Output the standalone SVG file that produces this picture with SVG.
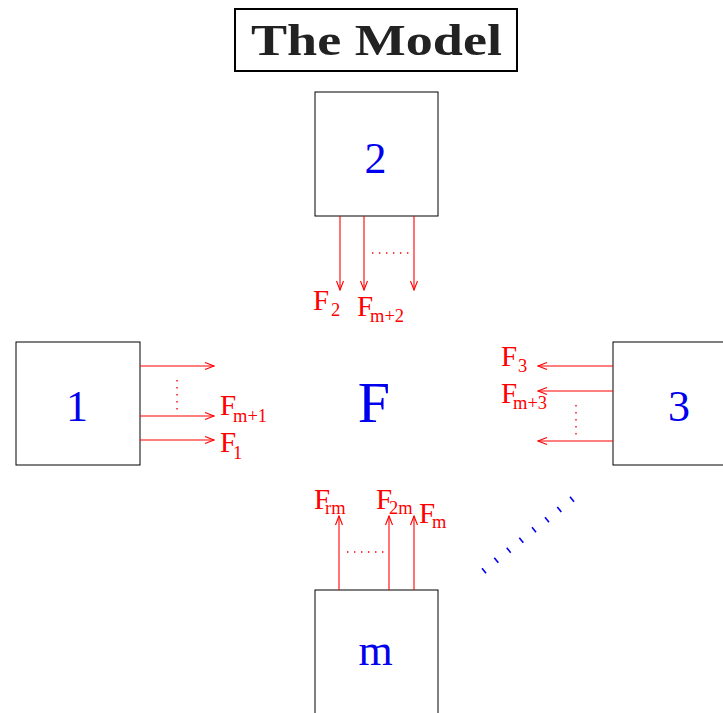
<svg xmlns="http://www.w3.org/2000/svg" width="723" height="713" viewBox="0 0 723 713">
<defs>
<style>
.box{fill:#fff;stroke:#000;stroke-width:1}
.lbl{font-family:"Liberation Serif","Times New Roman",serif;font-size:44px;fill:#0000ee;text-anchor:middle}
.fl{font-family:"Liberation Serif","Times New Roman",serif;fill:#ff0000}
.big{font-size:29px}
.sub{font-size:18.5px}
.arr{stroke:#ff0000;stroke-width:1.1;fill:none;marker-end:url(#ah)}
.dot{stroke:#ff0000;stroke-width:1.4;fill:none;stroke-dasharray:1.4 5.6}
.bd{stroke:#0000ee;stroke-width:1.6;fill:none}
</style>
<marker id="ah" viewBox="-11 -5 12 10" refX="0" refY="0" markerWidth="12" markerHeight="10" markerUnits="userSpaceOnUse" orient="auto">
<path d="M-9,-3.5 L0,0 L-9,3.5" fill="none" stroke="#ff0000" stroke-width="1.1"/>
</marker>
</defs>
<rect width="723" height="713" fill="#fff"/>
<g id="title">
<rect x="235" y="9" width="282" height="62" fill="#fff" stroke="#000" stroke-width="2"/>
<text x="251" y="55" font-family="Liberation Serif, serif" font-weight="bold" font-size="44" fill="#222" textLength="251" lengthAdjust="spacingAndGlyphs">The Model</text>
</g>
<g id="node-2">
<rect class="box" x="315" y="92" width="123" height="124"/>
<text class="lbl" x="375.5" y="173">2</text>
</g>
<g id="node-1">
<rect class="box" x="16" y="342" width="124" height="123"/>
<text class="lbl" x="77" y="421">1</text>
</g>
<g id="node-3">
<rect class="box" x="613" y="342" width="130" height="123"/>
<text class="lbl" x="679" y="421">3</text>
</g>
<g id="node-m">
<rect class="box" x="315" y="590" width="123" height="140"/>
<text class="lbl" x="375.5" y="665">m</text>
</g>
<g id="node-F">
<text x="374" y="421.5" font-family="Liberation Serif, serif" font-size="58" fill="#0000ee" text-anchor="middle">F</text>
</g>
<g id="connectors">
<line class="arr" x1="340" y1="216" x2="340" y2="290"/>
<line class="arr" x1="364" y1="216" x2="364" y2="290"/>
<line class="arr" x1="414" y1="216" x2="414" y2="290"/>
<line class="dot" x1="372" y1="253" x2="410" y2="253"/>
<line class="arr" x1="140" y1="366" x2="214" y2="366"/>
<line class="arr" x1="140" y1="416" x2="214" y2="416"/>
<line class="arr" x1="140" y1="440" x2="214" y2="440"/>
<line class="dot" x1="177" y1="380" x2="177" y2="410"/>
<line class="arr" x1="613" y1="366" x2="538" y2="366"/>
<line class="arr" x1="613" y1="391" x2="538" y2="391"/>
<line class="arr" x1="613" y1="441" x2="538" y2="441"/>
<line class="dot" x1="576" y1="405" x2="576" y2="435"/>
<line class="arr" x1="339" y1="590" x2="339" y2="516"/>
<line class="arr" x1="389" y1="590" x2="389" y2="516"/>
<line class="arr" x1="414" y1="590" x2="414" y2="516"/>
<line class="dot" x1="347" y1="552" x2="385" y2="552"/>
</g>
<g id="labels" class="fl">
<text class="big" x="313" y="310">F<tspan class="sub" x="331" y="316">2</tspan></text>
<text class="big" x="357" y="316">F<tspan class="sub" x="370" y="322">m+2</tspan></text>
<text class="big" x="220" y="415">F<tspan class="sub" x="233" y="422">m+1</tspan></text>
<text class="big" x="220" y="452">F<tspan class="sub" x="233" y="459">1</tspan></text>
<text class="big" x="501" y="366">F<tspan class="sub" x="518" y="372">3</tspan></text>
<text class="big" x="501" y="403">F<tspan class="sub" x="513" y="409">m+3</tspan></text>
<text class="big" x="314" y="509">F<tspan class="sub" x="325" y="514">rm</tspan></text>
<text class="big" x="376" y="509">F<tspan class="sub" x="389" y="514">2m</tspan></text>
<text class="big" x="419" y="523">F<tspan class="sub" x="432" y="528">m</tspan></text>
</g>
<g id="ellipsis" class="bd">
<line x1="482" y1="568.3" x2="486" y2="573.3"/>
<line x1="494.3" y1="557.7" x2="498.3" y2="562.7"/>
<line x1="506.7" y1="547.7" x2="510.7" y2="552.7"/>
<line x1="519.3" y1="537.7" x2="523.3" y2="542.7"/>
<line x1="532" y1="527.3" x2="536" y2="532.3"/>
<line x1="545" y1="517.3" x2="549" y2="522.3"/>
<line x1="557.3" y1="507" x2="561.3" y2="512"/>
<line x1="570" y1="496.7" x2="574" y2="501.7"/>
</g>
</svg>
